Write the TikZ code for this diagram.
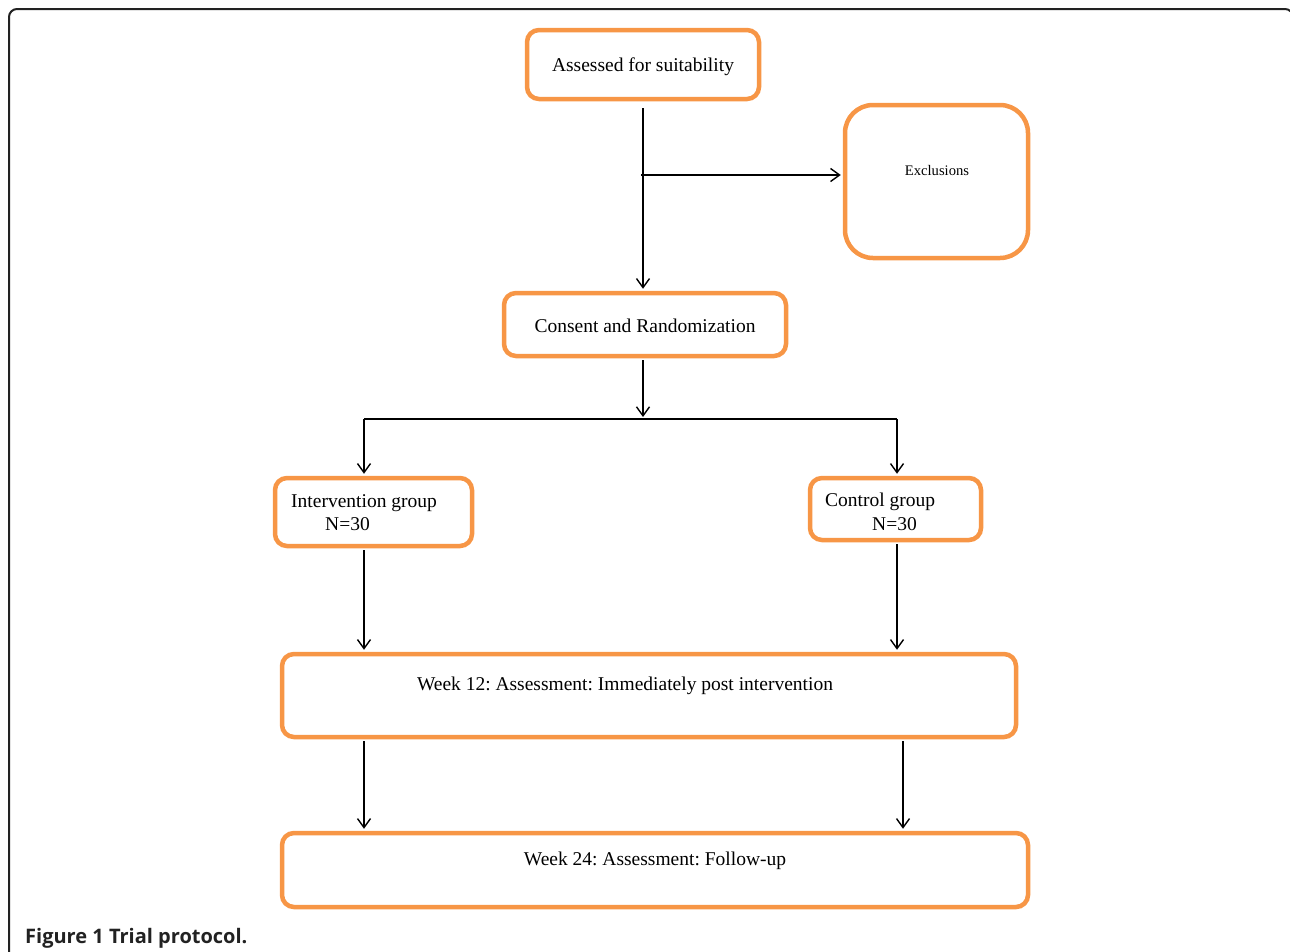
\documentclass[tikz,border=0pt]{standalone}
\usepackage{fontspec}
\setmainfont{Liberation Serif}
\newfontfamily\capfont{Open Sans}
\usetikzlibrary{arrows.meta}
\definecolor{boxorange}{HTML}{F79646}
\definecolor{framegray}{HTML}{222222}
\frenchspacing
\begin{document}
\begin{tikzpicture}[x=1pt,y=-1pt,
  obox/.style={draw=boxorange, line width=4.5pt, rounded corners=12pt, fill=white, inner sep=0pt},
  conn/.style={line width=1.4pt, -{Straight Barb[length=9pt,width=13pt,line width=1.4pt]}, shorten >=2pt},
  plain/.style={line width=1.4pt},
  txt/.style={inner sep=0pt, font=\fontsize{19.5}{22}\selectfont},
  smalltxt/.style={inner sep=0pt, font=\fontsize{14.6}{17}\selectfont}]
\useasboundingbox (0,0) rectangle (1290,951);
\clip (0,0) rectangle (1290,951);
% outer frame
\draw[framegray, line width=2pt, rounded corners=8pt] (9,1000) -- (9,9) -- (1293,9) -- (1293,1000);
% boxes
\node[obox, minimum width=232pt, minimum height=69pt] (b1) at (643,64.5) {};
\node[obox, rounded corners=28pt, minimum width=183pt, minimum height=153pt] (b2) at (936.5,181.5) {};
\node[obox, minimum width=282pt, minimum height=63pt] (b3) at (645,324.5) {};
\node[obox, minimum width=197pt, minimum height=68pt] (b4) at (373.5,512) {};
\node[obox, minimum width=171pt, minimum height=62pt] (b5) at (895.5,509) {};
\node[obox, minimum width=734pt, minimum height=83pt] (b6) at (649,695.5) {};
\node[obox, minimum width=746pt, minimum height=74pt] (b7) at (655,870) {};
% texts
\node[txt] (t1) at (643,67) {Assessed for suitability};
\node[smalltxt] (t2) at (937,171) {Exclusions};
\node[txt] (t3) at (645,326) {Consent and Randomization};
\node[txt, anchor=base west] (t4a) at (291,507) {Intervention group};
\node[txt, anchor=base west] (t4b) at (325,530) {N=30};
\node[txt, anchor=base west] (t5a) at (825,506) {Control group};
\node[txt, anchor=base west] (t5b) at (872,530) {N=30};
\node[txt] (t6) at (625,686) {Week 12: Assessment: Immediately post intervention};
\node[txt] (t7) at (655,861) {Week 24: Assessment: Follow-up};
\node[anchor=base west, inner sep=0pt, font=\capfont\bfseries\fontsize{20}{24}\selectfont, text=framegray] (cap) at (25,943) {Figure 1 Trial protocol.};
% connectors
\coordinate (top) at (643,108);
\coordinate (j1) at (641,175);
\coordinate (split) at (643,419);
\coordinate (sl) at (364,419);
\coordinate (sr) at (897,419);
\coordinate (ll) at (364,739);
\coordinate (rl) at (903,739);
\draw[conn] (top) -- (top |- b3.north);
\draw[conn] (j1) -- (j1 -| b2.west);
\draw[conn] ([yshift=-2pt]b3.south -| split) -- (split);
\draw[plain] (sl) -- (sr);
\draw[conn] (sl) -- (sl |- b4.north);
\draw[conn] (sr) -- (sr |- b5.north);
\draw[conn] ([yshift=-2pt]sl |- b4.south) -- (sl |- b6.north);
\draw[conn] ([yshift=-2pt]sr |- b5.south) -- (sr |- b6.north);
\draw[conn] ([yshift=-2pt]ll |- b6.south) -- (ll |- b7.north);
\draw[conn] ([yshift=-2pt]rl |- b6.south) -- (rl |- b7.north);
\end{tikzpicture}
\end{document}
